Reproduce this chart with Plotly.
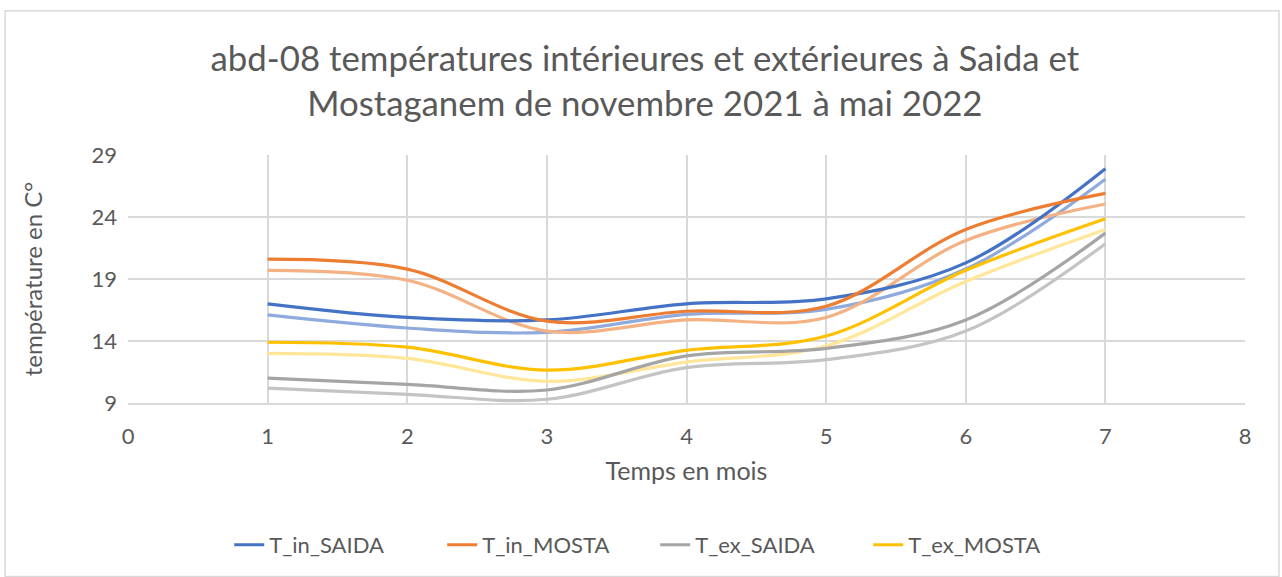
import plotly.graph_objects as go

# Months (1 = novembre 2021 ... 7 = mai 2022)
mois = [1, 2, 3, 4, 5, 6, 7]

# Main series (shown in legend)
t_in_saida = [17.0, 15.9, 15.7, 17.0, 17.4, 20.3, 27.9]
t_in_mosta = [20.6, 19.8, 15.6, 16.4, 16.8, 23.0, 25.9]
t_ex_saida = [11.0, 10.5, 10.05, 12.8, 13.4, 15.7, 22.7]
t_ex_mosta = [13.9, 13.5, 11.65, 13.25, 14.4, 19.7, 23.85]

# Companion series (lighter shades, not in legend)
t_in_saida_b = [16.1, 15.05, 14.7, 16.15, 16.55, 19.8, 27.05]
t_in_mosta_b = [19.7, 18.9, 14.8, 15.7, 15.9, 22.1, 25.05]
t_ex_saida_b = [10.2, 9.7, 9.3, 11.85, 12.5, 14.8, 21.85]
t_ex_mosta_b = [13.0, 12.6, 10.75, 12.3, 13.6, 18.8, 23.0]

x_ticks = [0, 1, 2, 3, 4, 5, 6, 7, 8]
y_ticks = [9, 14, 19, 24, 29]

FONT = "Lato"
TXT = "#595959"

fig = go.Figure()

light = [
    (t_in_saida_b, "#8FAADC"),
    (t_in_mosta_b, "#F4B183"),
    (t_ex_saida_b, "#C4C4C4"),
    (t_ex_mosta_b, "#FFE699"),
]
for vals, col in light:
    fig.add_trace(go.Scatter(
        x=mois, y=vals, mode="lines", showlegend=False, hoverinfo="skip",
        line=dict(color=col, width=3.2, shape="spline", smoothing=1.0),
    ))

main = [
    ("T_in_SAIDA", t_in_saida, "#4472C4"),
    ("T_in_MOSTA", t_in_mosta, "#ED7D31"),
    ("T_ex_SAIDA", t_ex_saida, "#A5A5A5"),
    ("T_ex_MOSTA", t_ex_mosta, "#FFC000"),
]
for name, vals, col in main:
    fig.add_trace(go.Scatter(
        x=mois, y=vals, mode="lines", name=name,
        line=dict(color=col, width=3.2, shape="spline", smoothing=1.0),
    ))

fig.update_layout(
    width=1282, height=577,
    margin=dict(l=128, r=37, t=155, b=173),
    paper_bgcolor="white", plot_bgcolor="white",
    font=dict(family=FONT, color=TXT),
    title=dict(
        text="abd-08 températures intérieures et extérieures à Saida et<br>Mostaganem de novembre 2021 à mai 2022",
        x=0.503, xanchor="center", y=0.877, yanchor="middle",
        font=dict(family=FONT, size=34.8, color=TXT),
    ),
    legend=dict(
        orientation="h", x=0.472, xanchor="center", y=-0.566, yanchor="middle",
        font=dict(family=FONT, size=22, color=TXT),
        traceorder="normal", entrywidth=168, entrywidthmode="pixels",
    ),
    shapes=[dict(
        type="rect", xref="paper", yref="paper",
        x0=-0.110, x1=1.0304, y0=-0.70, y1=1.582,
        line=dict(color="#D9D9D9", width=1.5), layer="below",
    )],
    showlegend=True,
)

fig.update_xaxes(
    range=[0, 8], tickvals=x_ticks, ticktext=[str(v) for v in x_ticks],
    showgrid=True, gridcolor="#D9D9D9", gridwidth=1.5,
    zeroline=False, showline=True, linecolor="#D9D9D9", linewidth=1.5,
    ticks="", ticklabelstandoff=13,
    tickfont=dict(family=FONT, size=22, color=TXT),
    title=dict(text="Temps en mois", standoff=14, font=dict(family=FONT, size=25, color=TXT)),
)
fig.update_yaxes(
    range=[9, 29], tickvals=y_ticks, ticktext=[str(v) for v in y_ticks],
    showgrid=True, gridcolor="#D9D9D9", gridwidth=1.5,
    zeroline=False, showline=False,
    ticks="", ticklabelstandoff=10,
    tickfont=dict(family=FONT, size=22, color=TXT),
    title=dict(text="température en C°", standoff=42, font=dict(family=FONT, size=24, color=TXT)),
)

fig.write_html("out.html")
